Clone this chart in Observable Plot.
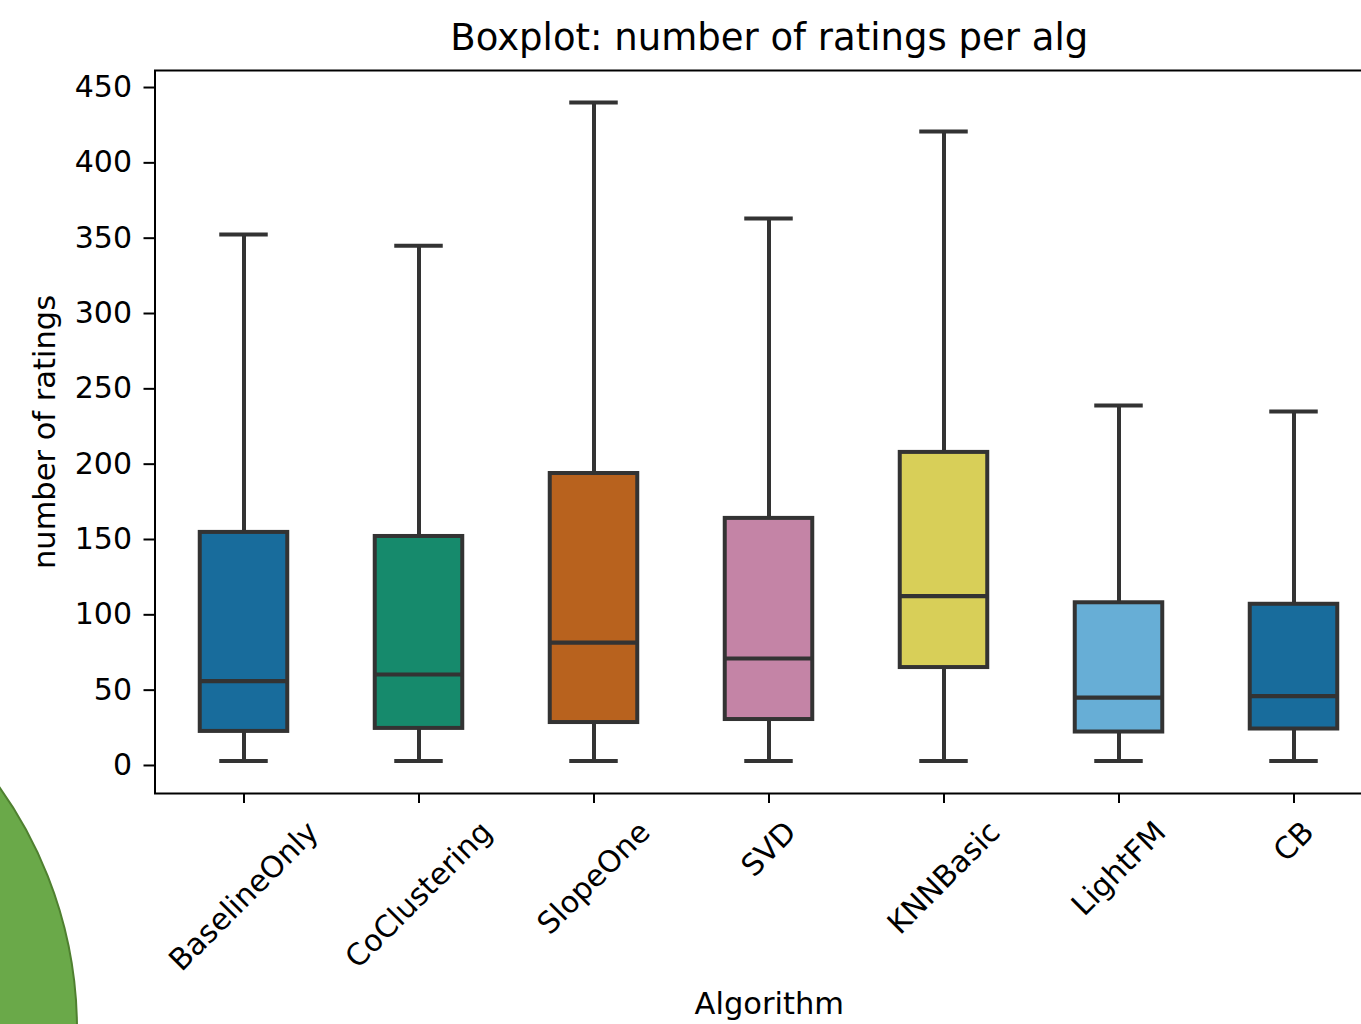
<!DOCTYPE html>
<html>
<head>
<meta charset="utf-8">
<script src="https://cdn.jsdelivr.net/npm/d3@7"></script>
<script src="https://cdn.jsdelivr.net/npm/@observablehq/plot@0.6"></script>
<style>
  html, body { margin: 0; padding: 0; background: #fff; overflow: hidden; width: 1361px; height: 1024px; }
  #chart { position: absolute; left: 0; top: 0; width: 1384px; }
  #chart svg { max-width: none !important; height: 1024px !important; }
  #blob { position: absolute; left: -757px; top: 612px; width: 835px; height: 835px; border-radius: 50%;
          background: #6aa949; box-sizing: border-box; border: 2px solid #4f8030; }
</style>
</head>
<body>
<div id="chart"></div>
<div id="blob"></div>
<script>
// ---- data ----
const algs = ["BaselineOnly", "CoClustering", "SlopeOne", "SVD", "KNNBasic", "LightFM", "CB"];
const whiskerLow = [3, 3, 3, 3, 3, 3, 3];
const q1 = [22.6, 24.6, 28.5, 30.5, 65, 22.2, 24.2];
const medians = [56, 60.4, 81.6, 71, 112.4, 45, 46];
const q3 = [154.7, 152, 193.8, 164, 207.8, 108, 107];
const whiskerHigh = [352.4, 345, 440, 363, 420.8, 239, 235];
const boxColors = ["#186c9c", "#168a6c", "#b8621e", "#c484a6", "#d8cf58", "#67aed6", "#186c9c"];
const yTicks = [0, 50, 100, 150, 200, 250, 300, 350, 400, 450];
const titleText = "Boxplot: number of ratings per alg";
const xLabel = "Algorithm";
const yLabel = "number of ratings";

const table = algs.map((a, i) => ({
  alg: a, low: whiskerLow[i], q1: q1[i], median: medians[i], q3: q3[i], high: whiskerHigh[i]
}));

// ---- layout ----
const W = 1383, H = 1024;
const mL = 154.5, mR = 0, mT = 70, mB = 231;
const band = (W - mL - mR) / algs.length;
const boxW = 88, capW = 49;
const boxInset = (band - boxW) / 2;
const capInset = (band - capW) / 2;
const font = "DejaVu Sans";
const tickFS = 30;
const labelFS = 30.5;
const titleFS = 37;
const lineC = "#333333";

// measure label lengths to place 45°-rotated, center-aligned labels (matplotlib style)
const ctx = document.createElement("canvas").getContext("2d");
ctx.font = `${tickFS}px "${font}"`;
const labelTop = 816 - (H - mB);
const xLabelMarks = algs.map(a => {
  const L = ctx.measureText(a).width;
  const bboxH = (L + tickFS * 1.0) / Math.SQRT2;
  return Plot.text([a], {
    x: d => d, frameAnchor: "bottom", text: d => d, rotate: -45,
    textAnchor: "middle", lineAnchor: "middle",
    dy: labelTop + bboxH / 2, fontSize: tickFS, fill: "black"
  });
});

const chart = Plot.plot({
  width: W, height: H,
  marginLeft: mL, marginRight: mR, marginTop: mT, marginBottom: mB,
  style: { fontFamily: font, background: "white", color: "black", overflow: "visible" },
  x: { type: "band", domain: algs, padding: 0, axis: null },
  y: { domain: [-18.6, 461.3], axis: null },
  color: { domain: algs, range: boxColors },
  marks: [
    Plot.axisY({ ticks: yTicks, tickSize: 11, tickPadding: 12, fontSize: tickFS, label: null,
                 stroke: "black", strokeWidth: 2, fill: "black" }),
    Plot.axisX({ tickSize: 10, stroke: "black", strokeWidth: 2, fill: "none", label: null }),
    // whiskers
    Plot.ruleX(table, { x: "alg", y1: "low", y2: "q1", stroke: lineC, strokeWidth: 4 }),
    Plot.ruleX(table, { x: "alg", y1: "q3", y2: "high", stroke: lineC, strokeWidth: 4 }),
    // caps
    Plot.tickY(table, { x: "alg", y: "low", stroke: lineC, strokeWidth: 4, insetLeft: capInset, insetRight: capInset }),
    Plot.tickY(table, { x: "alg", y: "high", stroke: lineC, strokeWidth: 4, insetLeft: capInset, insetRight: capInset }),
    // boxes
    Plot.rectY(table, { x: "alg", y1: "q1", y2: "q3", fill: "alg", stroke: lineC, strokeWidth: 4,
                        insetLeft: boxInset, insetRight: boxInset }),
    // medians
    Plot.tickY(table, { x: "alg", y: "median", stroke: lineC, strokeWidth: 4.2, insetLeft: boxInset, insetRight: boxInset }),
    Plot.frame({ stroke: "black", strokeWidth: 2 }),
    ...xLabelMarks,
    Plot.text([yLabel], { frameAnchor: "left", text: d => d, rotate: -90, dx: -110,
                          textAnchor: "middle", lineAnchor: "middle", fontSize: labelFS, fill: "black" }),
    Plot.text([xLabel], { frameAnchor: "bottom", text: d => d, dy: 211,
                          textAnchor: "middle", lineAnchor: "middle", fontSize: labelFS, fill: "black" }),
    Plot.text([titleText], { frameAnchor: "top", text: d => d, dy: -32,
                             textAnchor: "middle", lineAnchor: "middle", fontSize: titleFS, fill: "black" })
  ]
});
document.getElementById("chart").appendChild(chart);
</script>
</body>
</html>
